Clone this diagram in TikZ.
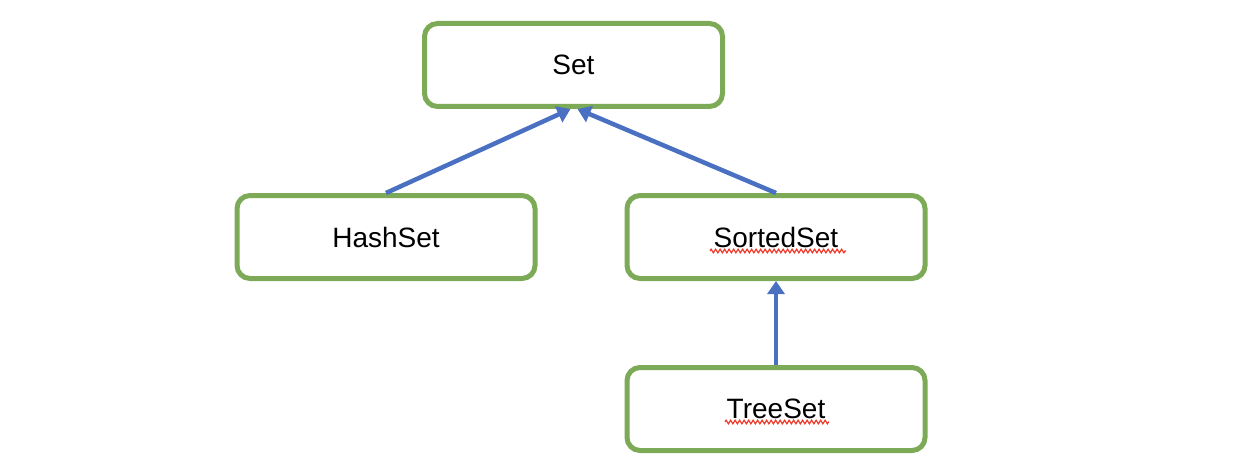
\documentclass[tikz,border=0pt]{standalone}
\usepackage{fontspec}
\setmainfont{Liberation Sans}
\usetikzlibrary{arrows.meta,calc,decorations.pathmorphing}
\definecolor{boxgreen}{HTML}{7DAA56}
\definecolor{arrowblue}{HTML}{4A70C2}
\definecolor{spellred}{HTML}{F03A2A}
\begin{document}
\begin{tikzpicture}[x=1pt,y=-1pt,
  classbox/.style={draw=boxgreen,line width=5pt,rounded corners=13pt,fill=white,
    minimum width=298pt,minimum height=83pt,inner sep=0pt,font=\fontsize{28}{32}\selectfont},
  inherit/.style={draw=arrowblue,line width=4.5pt,-{Triangle[length=13pt,width=17pt]}},
  squiggle/.style={draw=spellred,line width=1.2pt,decorate,decoration={zigzag,amplitude=1.8pt,segment length=4.5pt}}]
\useasboundingbox (0,0) rectangle (1258,468);
\node[classbox] (set) at (573.5,65) {Set};
\node[classbox] (hash) at (386,237) {HashSet};
\node[classbox] (sorted) at (776,237) {SortedSet};
\node[classbox] (tree) at (776,409) {TreeSet};
\coordinate (setl) at ($(set.south)+(-3,0)$);
\coordinate (setr) at ($(set.south)+(4,0)$);
\draw[inherit] (hash.north) -- (setl);
\draw[inherit] (sorted.north) -- (setr);
\draw[inherit] (tree.north) -- (sorted.south);
\coordinate (sq1a) at (710,251);
\coordinate (sq1b) at (846,251);
\coordinate (sq2a) at (725,422);
\coordinate (sq2b) at (829,422);
\draw[squiggle] (sq1a) -- (sq1b);
\draw[squiggle] (sq2a) -- (sq2b);
\end{tikzpicture}
\end{document}
